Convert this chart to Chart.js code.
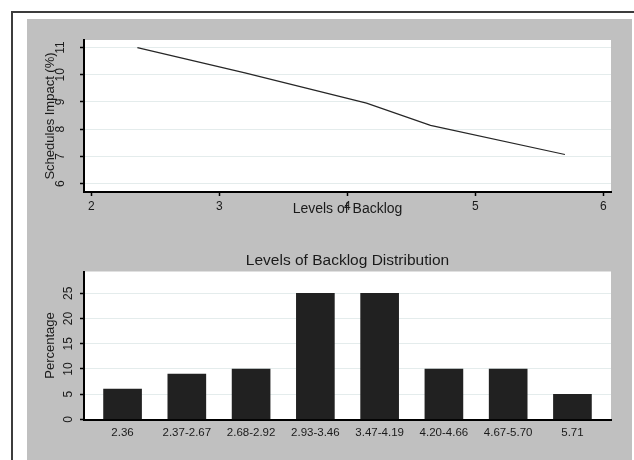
<!DOCTYPE html>
<html>
<head>
<meta charset="utf-8">
<script src="https://cdn.jsdelivr.net/npm/chart.js@4/dist/chart.umd.min.js"></script>
<style>
  html, body { margin: 0; padding: 0; background: #fff; width: 634px; height: 460px; overflow: hidden; }
  #frame { position: absolute; left: 11px; top: 11px; width: 660px; height: 480px;
           border-top: 2px solid #3c3c3c; border-left: 2px solid #3c3c3c; }
  #panel { position: absolute; left: 27px; top: 19px; width: 605px; height: 441px; background: #c0c0c0; }
  canvas { position: absolute; left: 27px; }
  #impactChart { top: 19px; width: 605px; height: 215px; }
  #distChart { top: 234px; width: 605px; height: 226px; }
</style>
</head>
<body>
<div id="frame"></div>
<div id="panel"></div>
<canvas id="impactChart" width="605" height="215"></canvas>
<canvas id="distChart" width="605" height="226"></canvas>
<script>
// Schedules impact against backlog level
const backlogLevels  = [2.36, 3.20, 4.15, 4.65, 5.70];
const scheduleImpact = [11.00, 10.07, 8.96, 8.14, 7.07];
const impactTicks = [6, 7, 8, 9, 10, 11];
const levelTicks  = [2, 3, 4, 5, 6];

// Distribution of backlog levels
const distCategories = ['2.36', '2.37-2.67', '2.68-2.92', '2.93-3.46', '3.47-4.19', '4.20-4.66', '4.67-5.70', '5.71'];
const distPercent    = [6, 9, 10, 25, 25, 10, 10, 5];
const pctTicks = [0, 5, 10, 15, 20, 25];

const FONT = "'Liberation Sans', Arial, sans-serif";
Chart.defaults.font.family = FONT;
Chart.defaults.color = '#1a1a1a';

const setTicks = vals => scale => { scale.ticks = vals.map(v => ({ value: v })); };
const fixWidth = w => scale => { scale.width = w; };
const fixHeight = h => scale => { scale.height = h; };

// white plotting region
const plotBackground = {
  id: 'plotBackground',
  beforeDraw(chart) {
    const { ctx, chartArea: a } = chart;
    ctx.save();
    ctx.fillStyle = '#ffffff';
    ctx.fillRect(a.left, a.top, a.right - a.left, a.bottom - a.top);
    ctx.restore();
  }
};

// heading centred over the plotting region
const centeredTitle = {
  id: 'centeredTitle',
  afterDraw(chart, args, opts) {
    const { ctx, chartArea: a } = chart;
    ctx.save();
    ctx.font = opts.size + 'px ' + FONT;
    ctx.fillStyle = opts.color;
    ctx.textAlign = 'center';
    ctx.textBaseline = 'middle';
    ctx.fillText(opts.text, (a.left + a.right) / 2, opts.y);
    ctx.restore();
  }
};

new Chart(document.getElementById('impactChart'), {
  type: 'line',
  data: {
    datasets: [{
      data: backlogLevels.map((x, i) => ({ x, y: scheduleImpact[i] })),
      borderColor: '#262626',
      borderWidth: 1.2,
      pointRadius: 0,
      tension: 0,
      fill: false
    }]
  },
  options: {
    responsive: false,
    animation: false,
    devicePixelRatio: 1,
    layout: { padding: { left: 0, right: 21, top: 21, bottom: 0 } },
    plugins: { legend: { display: false }, tooltip: { enabled: false } },
    scales: {
      x: {
        type: 'linear', min: 1.943, max: 6.06,
        afterBuildTicks: setTicks(levelTicks),
        afterFit: fixHeight(42),
        grid: { drawOnChartArea: false, tickLength: 4, tickColor: '#000', tickWidth: 1.5 },
        border: { color: '#000', width: 2 },
        ticks: { font: { size: 12 }, padding: 3, autoSkip: false, maxRotation: 0, callback: v => v },
        title: { display: true, text: 'Levels of Backlog', font: { size: 14 }, color: '#1a1a1a', padding: { top: 0, bottom: 16 } }
      },
      y: {
        min: 5.69, max: 11.28,
        afterBuildTicks: setTicks(impactTicks),
        afterFit: fixWidth(57),
        grid: { color: '#e4ecec', lineWidth: 1, tickLength: 4, tickColor: '#000', tickWidth: 1.5 },
        border: { color: '#000', width: 2 },
        ticks: { font: { size: 12 }, padding: 12.5, minRotation: 90, maxRotation: 90, crossAlign: 'center', callback: v => v },
        title: { display: true, text: 'Schedules Impact (%)', font: { size: 13 }, color: '#1a1a1a', padding: { top: 16, bottom: 0 } }
      }
    }
  },
  plugins: [plotBackground]
});

new Chart(document.getElementById('distChart'), {
  type: 'bar',
  data: {
    datasets: [{
      data: distPercent.map((y, i) => ({ x: i + 1, y })),
      backgroundColor: '#212121',
      borderWidth: 0,
      barThickness: 38
    }]
  },
  options: {
    responsive: false,
    animation: false,
    devicePixelRatio: 1,
    layout: { padding: { left: 0, right: 21, top: 37.5, bottom: 0 } },
    plugins: {
      legend: { display: false },
      tooltip: { enabled: false },
      centeredTitle: { text: 'Levels of Backlog Distribution', size: 15.5, color: '#1a1a1a', y: 27 }
    },
    scales: {
      x: {
        type: 'linear', min: 0.4, max: 8.6, offset: false,
        afterBuildTicks: setTicks(distCategories.map((_, i) => i + 1)),
        afterFit: fixHeight(40.5),
        grid: { display: false, drawTicks: false },
        border: { color: '#000', width: 2 },
        ticks: { font: { size: 11.5 }, padding: 6, autoSkip: false, maxRotation: 0, callback: v => distCategories[v - 1] }
      },
      y: {
        min: 0, max: 29.3,
        afterBuildTicks: setTicks(pctTicks),
        afterFit: fixWidth(57),
        grid: { color: '#e4ecec', lineWidth: 1, tickLength: 4, tickColor: '#000', tickWidth: 1.5 },
        border: { color: '#000', width: 2 },
        ticks: { font: { size: 12 }, padding: 5, minRotation: 90, maxRotation: 90, crossAlign: 'center', callback: v => v },
        title: { display: true, text: 'Percentage', font: { size: 13 }, color: '#1a1a1a', padding: { top: 15.5, bottom: 0 } }
      }
    }
  },
  plugins: [plotBackground, centeredTitle]
});
</script>
</body>
</html>
